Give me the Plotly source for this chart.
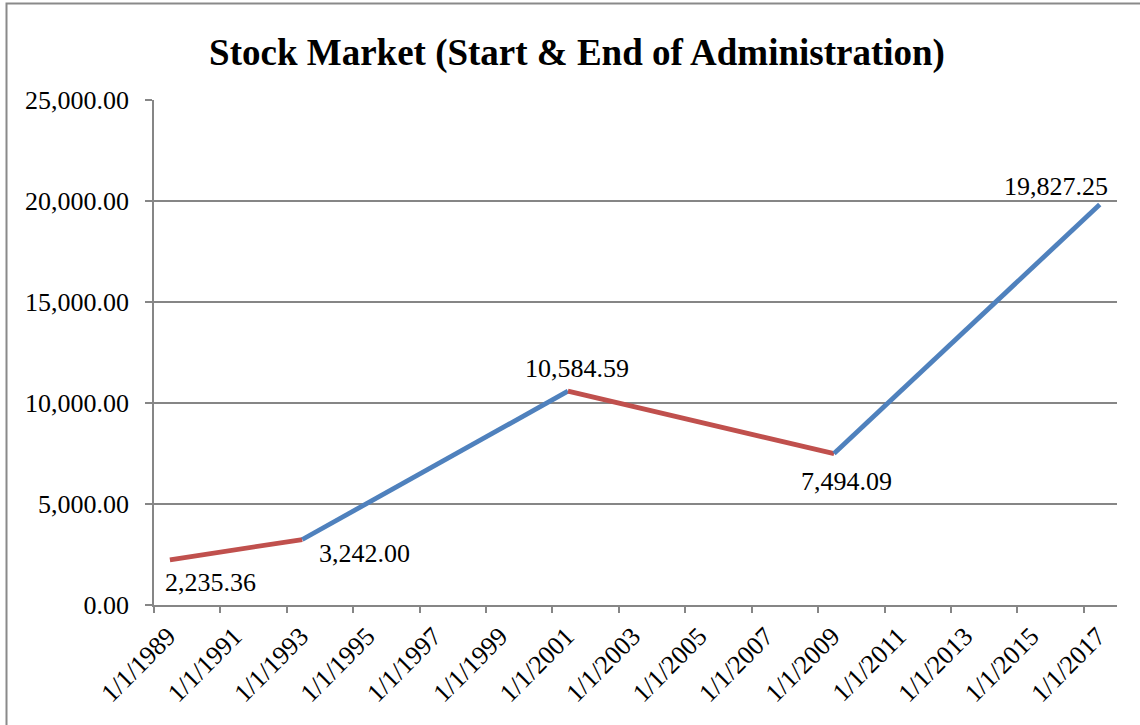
import plotly.graph_objects as go

# ---- data ----
dates = ["1989-06-25", "1993-06-20", "2001-06-20", "2009-06-25", "2017-06-25"]
values = [2235.36, 3242.00, 10584.59, 7494.09, 19827.25]
seg_colors = ["#C0504D", "#4F81BD", "#C0504D", "#4F81BD"]  # colour of segment i -> i+1
tick_years = list(range(1989, 2018, 2))
tick_vals = [f"{y}-01-01" for y in tick_years]
tick_text = [f"1/1/{y}" for y in tick_years]
title_text = "Stock Market (Start & End of Administration)"

# label offsets (px) relative to each point
label_shift = [(41, -23), (62, -14), (9, 23), (12, -28), (-44, 18)]

W, H = 1140, 725
L, R, T, B = 154, 1117, 100, 605
FONT = "Liberation Serif, Times New Roman, serif"
GRID = "#868686"

fig = go.Figure()
for i, c in enumerate(seg_colors):
    fig.add_trace(go.Scatter(
        x=dates[i:i + 2], y=values[i:i + 2], mode="lines",
        line=dict(color=c, width=4.8), showlegend=False, hoverinfo="skip"))

for d, v, (dx, dy) in zip(dates, values, label_shift):
    fig.add_annotation(x=d, y=v, text=f"{v:,.2f}", showarrow=False,
                       xshift=dx, yshift=dy, xanchor="center", yanchor="middle",
                       font=dict(family=FONT, size=26, color="#000000"))

def px_x(p):
    return (p - L) / (R - L)

def px_y(p):
    return (B - p) / (B - T)

# chart border (top and left visible)
fig.add_shape(type="rect", xref="paper", yref="paper",
              x0=px_x(6.5), x1=px_x(1160), y0=px_y(745), y1=px_y(3.5),
              line=dict(color="#8a8a8a", width=2), layer="below")

fig.update_layout(
    width=W, height=H,
    margin=dict(l=L, r=W - R, t=T, b=H - B, autoexpand=False),
    paper_bgcolor="white", plot_bgcolor="white",
    font=dict(family=FONT, size=26, color="#000000"),
    title=dict(text=f"<b>{title_text}</b>", x=577 / W, xref="container", xanchor="center",
               y=1 - 52 / H, yref="container", yanchor="middle",
               font=dict(family=FONT, size=37, color="#000000")),
    xaxis=dict(type="date", range=["1989-01-01", "2018-01-01"], automargin=False,
               tickmode="array", tickvals=tick_vals, ticktext=tick_text,
               tickangle=-45, ticks="outside", ticklen=6, tickcolor=GRID, tickwidth=1.5,
               showline=True, linecolor=GRID, linewidth=1.5, showgrid=False, zeroline=False,
               ticklabelshift=14, ticklabelstandoff=-2,
               tickfont=dict(family=FONT, size=26, color="#000000")),
    yaxis=dict(range=[0, 25000], dtick=5000, tickformat=",.2f", automargin=False,
               ticks="outside", ticklen=7, tickcolor=GRID, tickwidth=1.5,
               showline=True, linecolor=GRID, linewidth=1.5,
               showgrid=True, gridcolor=GRID, gridwidth=1.5, zeroline=False,
               ticklabelstandoff=11,
               tickfont=dict(family=FONT, size=26, color="#000000")),
)

fig.write_html("out.html", config={"displayModeBar": False},
               post_script="document.body.style.margin='0';")
